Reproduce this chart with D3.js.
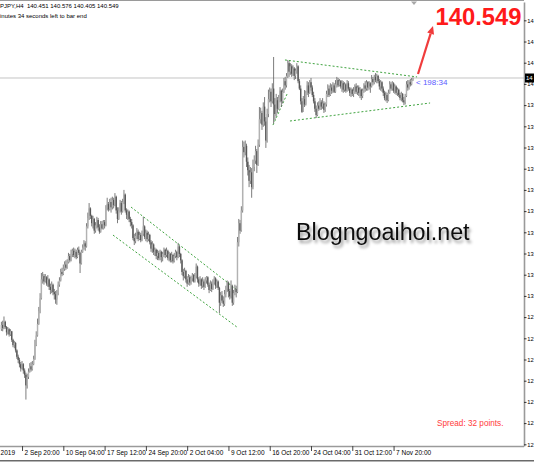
<!DOCTYPE html>
<html><head><meta charset="utf-8">
<script src="https://cdn.jsdelivr.net/npm/d3@7"></script>
<style>html,body{margin:0;padding:0;background:#fff;overflow:hidden}</style>
</head><body><svg id="c" width="534" height="462"></svg>
<script>
// ---- data (GBPJPY H4) ----
const closes=[
128.90,128.75,129.05,128.80,128.55,128.70,128.45,128.60,128.20,127.95,
128.05,127.70,127.40,127.25,127.05,126.85,127.05,126.75,126.55,126.05,
126.45,126.70,126.95,126.80,127.05,127.30,127.95,128.40,128.95,129.55,
130.15,131.05,131.20,130.95,131.15,130.85,131.05,130.70,130.55,130.80,
130.45,130.35,130.10,130.40,130.80,131.00,131.40,131.30,131.55,131.75,
131.60,131.85,132.15,131.95,132.25,132.40,132.20,132.35,132.10,132.45,
132.30,131.80,132.35,132.55,132.75,132.60,133.55,133.95,134.40,134.05,
133.70,133.90,133.35,133.60,133.85,133.50,133.30,133.65,133.45,133.75,
133.60,134.40,134.60,134.35,134.70,134.45,134.80,134.55,134.95,134.30,
133.90,134.30,134.65,134.25,134.70,135.05,134.30,134.10,134.25,133.90,
133.75,133.60,133.00,132.85,133.10,133.30,132.95,133.15,132.90,133.20,
133.55,133.05,133.25,132.95,133.15,132.80,132.50,132.70,132.35,132.45,
132.15,132.30,132.05,132.35,132.10,132.25,132.45,132.20,132.40,132.05,
132.25,131.95,132.20,131.90,132.15,132.35,132.10,132.60,132.25,131.95,
131.40,131.20,131.45,131.05,130.85,131.15,130.90,131.10,131.25,130.95,
131.20,131.65,131.05,130.85,131.05,130.75,130.95,130.70,131.00,131.15,
130.80,130.55,130.85,130.60,130.90,131.10,130.75,130.95,130.65,129.95,
130.30,130.05,129.90,130.35,130.60,130.90,130.50,130.25,130.75,129.95,
130.40,130.60,130.45,132.80,133.70,133.35,134.30,137.30,137.05,137.35,
136.60,136.20,135.70,136.10,135.40,136.35,136.65,137.10,136.45,137.40,
138.60,138.90,138.35,139.20,138.50,137.60,138.85,139.55,139.90,139.45,
140.05,139.30,138.85,139.50,139.10,139.60,139.95,139.45,139.90,140.40,
140.20,140.65,141.25,140.85,141.10,140.75,141.00,140.65,140.90,141.10,
140.40,140.05,139.45,138.95,139.55,139.30,139.85,140.20,139.85,140.35,
140.10,139.75,139.45,139.10,138.80,139.25,139.10,139.40,139.20,139.35,
139.05,139.30,139.80,140.05,139.75,140.10,139.95,140.20,139.90,140.25,
140.45,140.20,140.40,140.15,140.30,140.00,140.25,139.95,140.30,140.05,
139.85,140.00,139.80,139.95,140.15,139.90,140.10,139.85,140.00,139.70,
139.95,140.20,140.05,140.35,140.10,140.30,140.15,140.50,140.35,140.60,
140.45,140.65,140.40,140.15,140.35,140.05,139.85,139.60,139.75,139.50,
139.85,140.25,140.05,140.30,139.95,140.15,139.85,140.00,139.75,139.60,
139.80,139.50,139.40,139.70,140.25,140.10,140.35,140.25,140.45,140.549];
const highs=[
129.05,129.10,129.30,129.10,128.85,128.80,128.75,128.70,128.62,128.25,
128.15,128.10,127.75,127.50,127.35,127.15,127.20,127.10,126.85,126.65,
126.60,126.85,127.10,127.15,127.20,127.45,128.20,128.60,129.20,129.75,
130.40,131.35,131.40,131.30,131.30,131.20,131.25,131.10,130.85,130.95,
130.85,130.60,130.50,130.55,130.95,131.15,131.55,131.60,131.75,131.90,
131.95,132.00,132.30,132.25,132.45,132.50,132.55,132.50,132.45,132.55,
132.60,132.35,132.45,132.70,132.90,132.85,133.70,134.20,134.65,134.45,
134.10,134.05,133.95,133.75,134.00,133.95,133.65,133.80,133.80,133.85,
133.85,134.55,134.90,134.70,134.85,134.90,134.95,134.90,135.12,135.00,
134.45,134.45,134.80,134.75,134.85,135.27,135.10,134.40,134.35,134.30,
134.00,133.90,133.65,133.20,133.25,133.47,133.40,133.30,133.25,133.35,
134.00,133.60,133.40,133.35,133.30,133.20,132.90,132.85,132.75,132.55,
132.50,132.45,132.40,132.45,132.40,132.35,132.55,132.50,132.55,132.45,
132.35,132.30,132.35,132.25,132.30,132.45,132.40,132.77,132.65,132.30,
132.00,131.55,131.60,131.50,131.20,131.30,131.25,131.20,131.35,131.30,
131.35,131.80,131.70,131.15,131.20,131.10,131.15,131.05,131.15,131.20,
131.20,130.90,131.00,130.95,131.05,131.20,131.15,131.05,131.00,130.70,
130.45,130.50,130.25,130.55,130.75,131.00,130.95,130.60,131.00,130.80,
130.55,130.80,130.75,133.05,133.90,133.85,134.50,137.60,137.55,137.60,
137.45,136.80,136.45,136.35,136.30,136.70,136.90,137.35,137.20,137.65,
139.18,139.15,139.00,139.40,139.65,138.70,139.10,140.00,140.10,140.05,
140.30,141.54,139.60,139.80,139.65,139.75,140.12,140.00,140.05,140.55,
140.60,140.78,141.40,141.35,141.25,141.20,141.15,141.07,141.00,141.25,
141.15,140.50,140.20,139.60,139.70,139.98,139.95,140.40,140.35,140.45,
140.55,140.20,139.90,139.60,139.25,139.40,139.45,139.60,139.50,139.60,
139.45,139.40,139.95,140.25,140.20,140.30,140.25,140.35,140.30,140.45,
140.60,140.55,140.50,140.45,140.45,140.40,140.35,140.30,140.45,140.40,
140.12,140.10,140.05,140.12,140.25,140.30,140.20,140.20,140.12,140.05,
140.05,140.30,140.40,140.45,140.40,140.40,140.35,140.69,140.60,140.70,
140.78,140.75,140.70,140.50,140.45,140.40,140.15,139.95,139.90,139.85,
140.00,140.40,140.35,140.40,140.35,140.25,140.20,140.10,140.05,139.85,
139.90,139.84,139.65,139.80,140.40,140.45,140.45,140.50,140.55,140.576];
const lows=[
128.62,128.60,128.70,128.72,128.40,128.45,128.35,128.38,128.10,127.85,
127.80,127.60,127.30,127.10,126.90,126.70,126.80,126.60,126.40,125.38,
125.90,126.35,126.65,126.70,126.75,127.00,127.25,127.90,128.35,128.90,
129.45,130.10,130.85,130.80,130.90,130.75,130.70,130.55,130.35,130.40,
130.30,130.10,129.90,129.85,130.30,130.70,130.95,131.20,131.25,131.45,
131.50,131.55,131.80,131.85,131.90,132.10,132.10,132.05,132.00,132.05,
132.20,131.35,131.75,132.30,132.45,132.40,132.55,133.45,133.85,133.90,
133.55,133.45,133.20,133.25,133.45,133.35,133.20,133.25,133.40,133.40,
133.45,133.55,134.30,134.25,134.30,134.20,134.35,134.40,134.50,134.15,
133.70,133.85,134.20,134.10,134.20,134.60,134.20,133.90,133.85,133.75,
133.55,133.45,132.90,132.67,132.75,132.95,132.85,132.90,132.80,132.85,
133.10,132.95,132.85,132.80,132.85,132.70,132.35,132.30,132.20,132.15,
132.00,131.96,131.95,131.95,131.85,131.90,132.10,132.05,132.10,131.95,
131.90,131.85,131.85,131.80,131.85,132.05,131.95,132.05,132.10,131.80,
131.25,131.00,131.10,130.90,130.70,130.80,130.75,130.80,130.95,130.90,
130.90,131.10,130.90,130.70,130.75,130.60,130.65,130.55,130.65,130.85,
130.70,130.40,130.50,130.45,130.55,130.80,130.60,130.65,130.55,129.46,
129.80,129.95,129.75,129.80,130.20,130.45,130.20,130.10,130.15,129.80,
129.85,130.30,130.20,130.40,132.60,133.20,133.30,134.20,136.80,136.90,
136.35,135.95,135.40,135.55,134.90,135.30,136.15,136.50,136.07,136.40,
137.30,138.40,138.10,138.25,138.30,137.25,137.50,138.70,139.40,139.18,
139.35,138.40,138.57,138.75,138.90,139.05,139.40,139.18,139.35,139.84,
140.00,140.10,140.55,140.60,140.70,140.60,140.65,140.45,140.50,140.75,
140.30,139.98,139.30,138.90,138.95,139.18,139.25,139.75,139.65,139.80,
139.95,139.65,139.35,138.95,138.66,138.75,139.00,139.04,139.05,139.10,
138.90,138.95,139.20,139.65,139.65,139.70,139.80,139.85,139.84,139.85,
140.10,140.12,140.15,140.05,139.90,139.85,139.90,139.85,139.90,139.95,
139.70,139.65,139.70,139.65,139.80,139.80,139.75,139.70,139.60,139.51,
139.60,139.85,139.90,139.95,139.95,140.00,139.85,140.10,140.20,140.25,
140.35,140.30,140.30,140.00,139.95,139.90,139.70,139.50,139.45,139.37,
139.45,139.80,139.95,139.95,139.85,139.80,139.75,139.70,139.65,139.50,
139.45,139.40,139.27,139.30,139.65,139.95,140.00,140.15,140.20,140.405];
const firstOpen=128.70;
const lastBar={open:140.451,high:140.576,low:140.405,close:140.549};
// price-axis ticks (only the leading digits are visible in the screenshot)
const yTicks=[143.27,142.27,141.27,140.27,139.27,138.27,137.27,136.27,135.27,134.27,133.27,132.27,131.27,130.27,129.27,128.27,127.27,126.27,125.27,124.27,123.27];
const yTickLabels=["14","14","14","14","13","13","13","13","13","13","13","13","13","13","12","12","12","12","12","12","12"];
const xTickIdx=[-2.6,16,48,80,112,144,176,208,240,272,304];
const xTickLabels=["2019","2 Sep 20:00","10 Sep 04:00","17 Sep 12:00","24 Sep 20:00","2 Oct 04:00","9 Oct 12:00","16 Oct 20:00","24 Oct 04:00","31 Oct 12:00","7 Nov 20:00"];
// trend lines: [barIndex, price]
const trendLines=[
 [[100.5,134.46],[182.6,130.55]],
 [[86.5,133.14],[182.6,128.80]],
 [[219.8,141.40],[322.2,140.60]],
 [[223.7,138.52],[332.3,139.37]],
 [[210.5,138.33],[221.4,139.79]]
];

// ---- layout ----
const svg=d3.select("#c");
const PR=524, PB=446;
const x=d3.scaleLinear().domain([-1.085,405.1]).range([0,PR]);
const y=d3.scaleLinear().domain([123.19,144.134]).range([PB,2]);
const FONT="'Liberation Sans', Arial, sans-serif";

svg.append("rect").attr("width",534).attr("height",462).attr("fill","#fff");
const defs=svg.append("defs");
defs.append("clipPath").attr("id","clip").append("rect").attr("x",0).attr("y",1).attr("width",PR).attr("height",PB-1);
const f=defs.append("filter").attr("id","shadow").attr("x","-10%").attr("y","-30%").attr("width","120%").attr("height","160%");
f.append("feDropShadow").attr("dx",2).attr("dy",3).attr("stdDeviation",1.6).attr("flood-color","#000").attr("flood-opacity",0.4);

// watermark
svg.append("text").attr("x",296).attr("y",240).attr("font-family",FONT).attr("font-size",23.3)
  .attr("fill","#111").attr("filter","url(#shadow)").text("Blogngoaihoi.net");

const plot=svg.append("g").attr("clip-path","url(#clip)");
// bid line
plot.append("line").attr("x1",0).attr("x2",PR).attr("y1",y(lastBar.close)).attr("y2",y(lastBar.close))
  .attr("stroke","#c4c4c4").attr("stroke-width",1);

// trend lines
plot.selectAll("line.tl").data(trendLines).join("line").attr("class","tl")
  .attr("x1",d=>x(d[0][0])).attr("y1",d=>y(d[0][1])).attr("x2",d=>x(d[1][0])).attr("y2",d=>y(d[1][1]))
  .attr("stroke","#3fa33f").attr("stroke-width",1).attr("stroke-dasharray","2,2");

// candles
const opens=closes.map((c,i)=>i===0?firstOpen:closes[i-1]);
const idx=d3.range(closes.length);
plot.selectAll("line.w").data(idx).join("line").attr("class","w")
  .attr("x1",i=>x(i)).attr("x2",i=>x(i))
  .attr("y1",i=>y(Math.max(highs[i],opens[i],closes[i])))
  .attr("y2",i=>y(Math.min(lows[i],opens[i],closes[i])))
  .attr("stroke","#666").attr("stroke-width",0.85);
plot.selectAll("rect.b").data(idx).join("rect").attr("class","b")
  .attr("x",i=>x(i)-0.7).attr("width",1.4)
  .attr("y",i=>y(Math.max(opens[i],closes[i])))
  .attr("height",i=>Math.max(0.7,Math.abs(y(opens[i])-y(closes[i]))))
  .attr("fill",i=>closes[i]>=opens[i]?"#b2b2b2":"#575757");

// frame
svg.append("line").attr("x1",0).attr("x2",PR).attr("y1",0.5).attr("y2",0.5).attr("stroke","#9a9a9a");
// y axis
const ya=svg.append("g").attr("transform",`translate(${PR},0)`)
  .call(d3.axisRight(y).tickValues(yTicks).tickSize(2.5).tickSizeOuter(0).tickPadding(0.8).tickFormat((d,i)=>yTickLabels[i]));
ya.select(".domain").attr("stroke","#9a9a9a").attr("stroke-width",1.6);
ya.selectAll(".tick line").attr("stroke","#333");
ya.selectAll(".tick text").attr("font-family",FONT).attr("font-size",5.8).attr("fill","#000");
// x axis
const xa=svg.append("g").attr("transform",`translate(0,${PB})`)
  .call(d3.axisBottom(x).tickValues(xTickIdx).tickSize(5).tickSizeOuter(0).tickFormat((d,i)=>xTickLabels[i]));
xa.select(".domain").attr("stroke","#9a9a9a").attr("stroke-width",1.4).attr("d",`M0,0.5H${PR}`);
xa.selectAll(".tick line").attr("stroke","#444");
xa.selectAll(".tick text").attr("font-family",FONT).attr("font-size",6.5).attr("fill","#000")
  .attr("text-anchor","start").attr("x",2).attr("y",4.3);
svg.append("line").attr("x1",0).attr("x2",534).attr("y1",460.8).attr("y2",460.8).attr("stroke","#6a6a6a").attr("stroke-width",1.5);

// current price box on axis
const py=y(lastBar.close);
svg.append("rect").attr("x",PR+1).attr("y",py-4.5).attr("width",9).attr("height",9).attr("fill","#000");
svg.append("text").attr("x",PR+2).attr("y",py).attr("dy","0.34em").attr("font-family",FONT).attr("font-size",6)
  .attr("fill","#fff").text("14");

// chart-shift marker
svg.append("path").attr("d","M411,1.5L417,1.5L414,5Z").attr("fill","#a8a8a8");

// title / comment (left part cropped in the screenshot)
svg.append("text").attr("x",0).attr("y",8).attr("font-family",FONT).attr("font-size",6).attr("fill","#000")
  .attr("xml:space","preserve")
  .text(`PJPY,H4  ${lastBar.open.toFixed(3)} ${lastBar.high.toFixed(3)} ${lastBar.low.toFixed(3)} ${lastBar.close.toFixed(3)}`);
svg.append("text").attr("x",0).attr("y",17.5).attr("font-family",FONT).attr("font-size",6).attr("fill","#000")
  .text("inutes 34 seconds left to bar end");

// countdown label
svg.append("text").attr("x",416).attr("y",py+4).attr("dy","0.34em").attr("font-family",FONT).attr("font-size",8)
  .attr("fill","#5b5bff").text("< 198:34");

// big price + arrow
svg.append("text").attr("x",435.5).attr("y",25).attr("font-family",FONT).attr("font-weight","bold").attr("font-size",23.8)
  .attr("fill","#ff1a1a").text(lastBar.close.toFixed(3));
const a0=[418,74], tip=[433,26];
const dx=tip[0]-a0[0], dy=tip[1]-a0[1], L=Math.hypot(dx,dy), ux=dx/L, uy=dy/L;
const bx=tip[0]-8*ux, by=tip[1]-8*uy;
svg.append("line").attr("x1",a0[0]).attr("y1",a0[1]).attr("x2",bx).attr("y2",by).attr("stroke","#f03c3c").attr("stroke-width",2.2);
svg.append("path").attr("d",`M${tip[0]},${tip[1]}L${bx-uy*3.6},${by+ux*3.6}L${bx+uy*3.6},${by-ux*3.6}Z`).attr("fill","#f03c3c");

// spread
svg.append("text").attr("x",437).attr("y",426).attr("font-family",FONT).attr("font-size",8.2)
  .attr("fill","#ff3b3b").text("Spread: 32 points.");
</script></body></html>
